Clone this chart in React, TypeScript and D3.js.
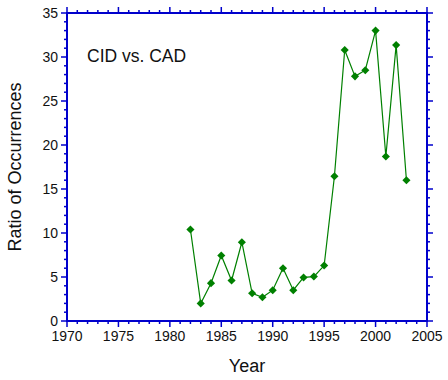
import React from "react";
import * as d3 from "d3";

const years = [1982, 1983, 1984, 1985, 1986, 1987, 1988, 1989, 1990, 1991, 1992, 1993, 1994, 1995, 1996, 1997, 1998, 1999, 2000, 2001, 2002, 2003];
const ratios = [10.4, 2.0, 4.3, 7.45, 4.6, 8.95, 3.15, 2.7, 3.5, 6.0, 3.5, 4.95, 5.05, 6.3, 16.45, 30.8, 27.8, 28.5, 33.0, 18.7, 31.35, 16.0];
const xTicks = [1970, 1975, 1980, 1985, 1990, 1995, 2000, 2005];
const yTicks = [0, 5, 10, 15, 20, 25, 30, 35];
const xMinor = d3.range(1970, 2006, 1);
const yMinor = d3.range(0, 36, 1);

const W = 448, H = 380;
const left = 67, right = 427, top = 13, bottom = 321;
const AXIS = "#0000CC";
const GREEN = "#008000";
const FONT = "Arial, 'Liberation Sans', sans-serif";

export default function App() {
  const x = d3.scaleLinear().domain([1970, 2005]).range([left, right]);
  const y = d3.scaleLinear().domain([0, 35]).range([bottom, top]);
  const pts = years.map((yr, i) => [x(yr), y(ratios[i])] as [number, number]);
  const line = d3.line()(pts) || "";
  const diamond = d3.symbol().type(d3.symbolDiamond2 ?? d3.symbolDiamond).size(42)() || "";
  const isMajorX = (v: number) => v % 5 === 0;
  const isMajorY = (v: number) => v % 5 === 0;
  return (
    <svg width={W} height={H} style={{ position: "absolute", left: 0, top: 0, display: "block", background: "#fff" }}>
      <rect x={0} y={0} width={W} height={H} fill="#fff" />
      {/* ticks */}
      <g stroke={AXIS} strokeWidth={1.5}>
        {xMinor.map((v) => {
          const len = isMajorX(v) ? 6 : 3;
          return (
            <g key={"x" + v}>
              <line x1={x(v)} x2={x(v)} y1={bottom} y2={bottom + len} />
              <line x1={x(v)} x2={x(v)} y1={top} y2={top - len} />
            </g>
          );
        })}
        {yMinor.map((v) => {
          const len = isMajorY(v) ? 6 : 3;
          return (
            <g key={"y" + v}>
              <line x1={left} x2={left - len} y1={y(v)} y2={y(v)} />
              <line x1={right} x2={right + len} y1={y(v)} y2={y(v)} />
            </g>
          );
        })}
      </g>
      <rect x={left} y={top} width={right - left} height={bottom - top} fill="none" stroke={AXIS} strokeWidth={2} />
      {/* tick labels */}
      <g fontFamily={FONT} fontSize={14} fill="#111">
        {xTicks.map((v) => (
          <text key={"xl" + v} x={x(v)} y={bottom + 20} textAnchor="middle">{v}</text>
        ))}
        {yTicks.map((v) => (
          <text key={"yl" + v} x={left - 9} y={y(v) + 5} textAnchor="end">{v}</text>
        ))}
      </g>
      {/* data */}
      <path d={line} fill="none" stroke={GREEN} strokeWidth={1.2} />
      {pts.map((p, i) => (
        <path key={"m" + i} d={diamond} transform={`translate(${p[0]},${p[1]})`} fill={GREEN} />
      ))}
      <text x={87} y={62} fontFamily={FONT} fontSize={17.5} fill="#111">CID vs. CAD</text>
      <text x={(left + right) / 2} y={372} fontFamily={FONT} fontSize={18} textAnchor="middle" fill="#111">Year</text>
      <text transform={`translate(21,${(top + bottom) / 2}) rotate(-90)`} fontFamily={FONT} fontSize={18} textAnchor="middle" fill="#111">Ratio of Occurrences</text>
    </svg>
  );
}
